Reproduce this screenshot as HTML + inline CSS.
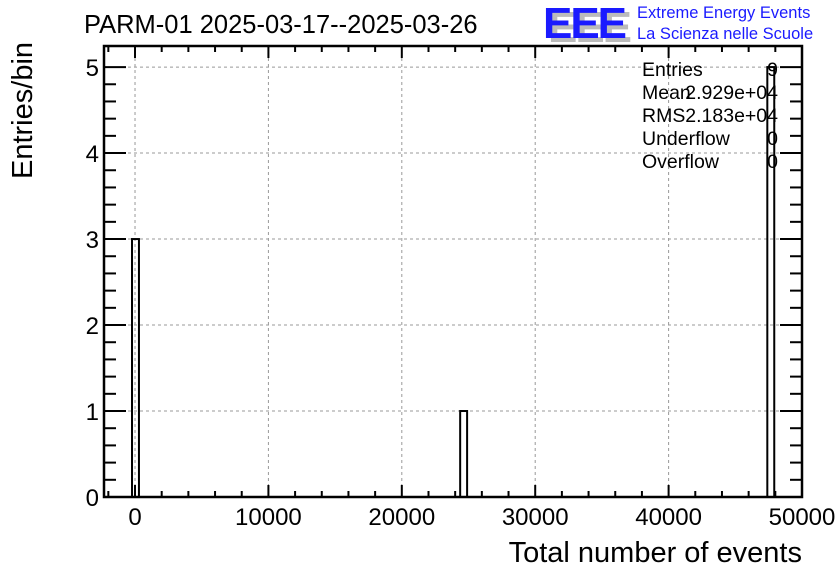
<!DOCTYPE html>
<html><head><meta charset="utf-8"><style>
body{margin:0;background:#fff;}
svg{display:block;font-family:"Liberation Sans",Arial,sans-serif;}
</style></head><body>
<svg id="c" width="836" height="572">
<text x="84" y="33" font-size="25.5">PARM-01 2025-03-17--2025-03-26</text>
<g>
<text x="545" y="40" font-size="44" fill="#bbb" font-weight="bold" textLength="84" transform="translate(3,2)">EEE</text>
<text x="543" y="38" font-size="44" fill="#1a1aff" font-weight="bold" textLength="84">EEE</text>
<text x="637" y="18" font-size="16.5" fill="#1a1aff">Extreme Energy Events</text>
<text x="637" y="39" font-size="16.5" fill="#1a1aff">La Scienza nelle Scuole</text>
</g>
<g id="grid"></g><g id="bars"></g><g id="axes"></g>
<text x="802" y="562" font-size="29" text-anchor="end">Total number of events</text>
<text transform="translate(32,179) rotate(-90)" font-size="29">Entries/bin</text>
<g font-size="19.5">
<text x="642" y="76">Entries</text><text x="778" y="76" text-anchor="end">9</text>
<text x="642" y="99">Mean</text><text x="778" y="99" text-anchor="end">2.929e+04</text>
<text x="642" y="122">RMS</text><text x="778" y="122" text-anchor="end">2.183e+04</text>
<text x="642" y="145">Underflow</text><text x="778" y="145" text-anchor="end">0</text>
<text x="642" y="168">Overflow</text><text x="778" y="168" text-anchor="end">0</text>
</g>
</svg>
<script>
const binStarts=[-225,24375,47400];
const binWidth=520;
const counts=[3,1,5];
const xTicks=[0,10000,20000,30000,40000,50000];
const yTicks=[0,1,2,3,4,5];
const NS="http://www.w3.org/2000/svg";
const L=104,R=802,T=46,B=497;
const xmin=-2325,xmax=50000,ymin=0,ymax=5.245;
const X=v=>L+(v-xmin)/(xmax-xmin)*(R-L);
const Y=v=>B-(v-ymin)/(ymax-ymin)*(B-T);
function mk(tag,at,p){const e=document.createElementNS(NS,tag);for(const k in at)e.setAttribute(k,at[k]);p.appendChild(e);return e;}
const g=document.getElementById('grid'),bg=document.getElementById('bars'),ax=document.getElementById('axes');
xTicks.forEach(t=>{const l=mk('line',{x1:X(t),x2:X(t),y1:T,y2:B,stroke:'#999','stroke-dasharray':'3,3'},g);
});
yTicks.forEach(t=>{const l=mk('line',{x1:L,x2:R,y1:Y(t),y2:Y(t),stroke:'#999','stroke-dasharray':'3,3'},g);
});
counts.forEach((c,i)=>{const r=mk('rect',{x:X(binStarts[i]),y:Y(c),width:X(binStarts[i]+binWidth)-X(binStarts[i]),height:Y(0)-Y(c),fill:'none',stroke:'#000','stroke-width':2},bg);
});
const f=mk('rect',{x:L,y:T,width:R-L,height:B-T,fill:'none',stroke:'#000','stroke-width':2.5},ax);

for(let v=-2000;v<=50000;v+=2000){const len=(v%10000===0)?12:6;
mk('line',{x1:X(v),x2:X(v),y1:B,y2:B-len,stroke:'#000','stroke-width':2},ax);
mk('line',{x1:X(v),x2:X(v),y1:T,y2:T+len,stroke:'#000','stroke-width':2},ax);}
for(let v=0;v<=5.2;v+=0.2){const m=Math.abs(v-Math.round(v))<1e-6;const len=m?22:12;
mk('line',{x1:L,x2:L+len,y1:Y(v),y2:Y(v),stroke:'#000','stroke-width':2},ax);
mk('line',{x1:R,x2:R-len,y1:Y(v),y2:Y(v),stroke:'#000','stroke-width':2},ax);}
xTicks.forEach(t=>{const e=mk('text',{x:X(t),y:525,'font-size':24,'text-anchor':'middle'},ax);e.textContent=t;
});
yTicks.forEach(t=>{const e=mk('text',{x:99,y:Y(t)+9,'font-size':24,'text-anchor':'end'},ax);e.textContent=t;
});
</script>
</body></html>
